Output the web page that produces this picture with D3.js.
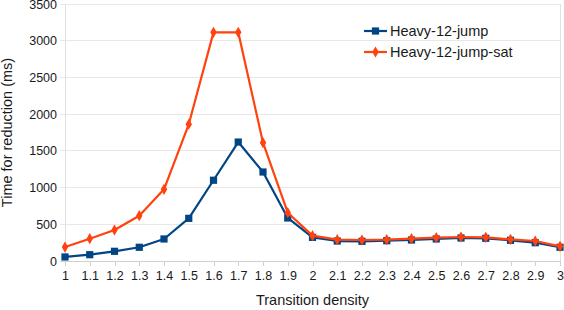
<!DOCTYPE html>
<html>
<head>
<meta charset="utf-8">
<script src="https://cdn.jsdelivr.net/npm/d3@7"></script>
<style>
  body { margin: 0; background: #fff; }
  svg { display: block; font-family: "Liberation Sans", Arial, sans-serif; }
</style>
</head>
<body>
<svg id="chart"></svg>
<script>
// densities on the x axis
const densities = [1, 1.1, 1.2, 1.3, 1.4, 1.5, 1.6, 1.7, 1.8, 1.9, 2, 2.1, 2.2, 2.3, 2.4, 2.5, 2.6, 2.7, 2.8, 2.9, 3];
const xTickLabels = ["1", "1.1", "1.2", "1.3", "1.4", "1.5", "1.6", "1.7", "1.8", "1.9", "2", "2.1", "2.2", "2.3", "2.4", "2.5", "2.6", "2.7", "2.8", "2.9", "3"];
const yTicks = [0, 500, 1000, 1500, 2000, 2500, 3000, 3500];

const seriesNames = ["Heavy-12-jump", "Heavy-12-jump-sat"];
const heavyJump = [55, 86, 132, 187, 300, 581, 1100, 1620, 1212, 586, 322, 272, 268, 276, 286, 300, 313, 309, 282, 249, 187];
const heavyJumpSat = [190, 304, 422, 617, 976, 1862, 3114, 3114, 1611, 658, 345, 290, 286, 290, 304, 318, 327, 322, 295, 272, 200];

const width = 564;
const height = 310;
const plotLeft = 65, plotRight = 560, plotTop = 4, plotBottom = 261;

const blue = "#004586";
const orange = "#ff420e";

let svg = d3.select("#chart").attr("width", width).attr("height", height);

let xScale = d3.scaleLinear().domain([1, 3]).range([plotLeft, plotRight]);
let yScale = d3.scaleLinear().domain([0, 3500]).range([plotBottom, plotTop]);

// grid lines
svg.append("g")
  .selectAll("line")
  .data(yTicks)
  .enter()
  .append("line")
  .attr("x1", plotLeft - 5)
  .attr("x2", plotRight)
  .attr("y1", (d) => yScale(d))
  .attr("y2", (d) => yScale(d))
  .attr("stroke", (d) => d == 0 ? "#d0d0d0" : "#e8e8e8")
  .attr("stroke-width", 1)
  .attr("shape-rendering", "crispEdges");

// side borders
svg.append("line")
  .attr("x1", plotLeft).attr("x2", plotLeft)
  .attr("y1", plotTop).attr("y2", plotBottom + 5)
  .attr("stroke", "#e0e0e0")
  .attr("shape-rendering", "crispEdges");
svg.append("line")
  .attr("x1", plotRight).attr("x2", plotRight)
  .attr("y1", plotTop).attr("y2", plotBottom + 5)
  .attr("stroke", "#e0e0e0")
  .attr("shape-rendering", "crispEdges");

// x axis
let xAxis = d3.axisBottom(xScale)
  .tickValues(densities)
  .tickSize(5)
  .tickPadding(5)
  .tickFormat((d, i) => xTickLabels[i]);
let gx = svg.append("g")
  .attr("transform", "translate(0," + plotBottom + ")")
  .call(xAxis);
gx.select(".domain").remove();
gx.selectAll("line").attr("stroke", "#d0d0d0").attr("shape-rendering", "crispEdges");
gx.selectAll("text")
  .attr("fill", "#1a1a1a")
  .style("font-size", "12.5px")
  .style("font-family", "'Liberation Sans', Arial, sans-serif");

// y axis
let yAxis = d3.axisLeft(yScale)
  .tickValues(yTicks)
  .tickSize(0)
  .tickPadding(8)
  .tickFormat(d3.format("d"));
let gy = svg.append("g")
  .attr("transform", "translate(" + plotLeft + ",0)")
  .call(yAxis);
gy.select(".domain").remove();
gy.selectAll("text")
  .attr("fill", "#1a1a1a")
  .style("font-size", "12.5px")
  .style("font-family", "'Liberation Sans', Arial, sans-serif");

// axis titles
svg.append("text")
  .text("Transition density")
  .attr("x", (plotLeft + plotRight) / 2)
  .attr("y", 305)
  .attr("text-anchor", "middle")
  .attr("fill", "#1a1a1a")
  .style("font-size", "14.5px");

svg.append("text")
  .text("Time for reduction (ms)")
  .attr("transform", "translate(12," + ((plotTop + plotBottom) / 2) + ") rotate(-90)")
  .attr("text-anchor", "middle")
  .attr("fill", "#1a1a1a")
  .style("font-size", "14.5px");

let line = d3.line()
  .x((d, i) => xScale(densities[i]))
  .y((d) => yScale(d));

let drawSeries = (values, color, shape, size) => {
  svg.append("path")
    .datum(values)
    .attr("d", line)
    .attr("fill", "none")
    .attr("stroke", color)
    .attr("stroke-width", 2.2)
    .attr("stroke-linejoin", "round");

  svg.append("g")
    .selectAll("path")
    .data(values)
    .enter()
    .append("path")
    .attr("d", d3.symbol().type(shape).size(size))
    .attr("transform", (d, i) => "translate(" + xScale(densities[i]) + "," + yScale(d) + ")")
    .attr("fill", color);
};

drawSeries(heavyJump, blue, d3.symbolSquare, 52);
drawSeries(heavyJumpSat, orange, d3.symbolDiamond, 36);

// legend
let legend = svg.append("g");
let legendItems = [
  { name: seriesNames[0], color: blue, shape: d3.symbolSquare, size: 52, y: 31 },
  { name: seriesNames[1], color: orange, shape: d3.symbolDiamond, size: 36, y: 52 }
];
legendItems.forEach((item) => {
  legend.append("line")
    .attr("x1", 364).attr("x2", 387)
    .attr("y1", item.y).attr("y2", item.y)
    .attr("stroke", item.color)
    .attr("stroke-width", 2.2);
  legend.append("path")
    .attr("d", d3.symbol().type(item.shape).size(item.size))
    .attr("transform", "translate(375.5," + item.y + ")")
    .attr("fill", item.color);
  legend.append("text")
    .text(item.name)
    .attr("x", 390)
    .attr("y", item.y + 5)
    .attr("fill", "#1a1a1a")
    .style("font-size", "14.5px");
});
</script>
</body>
</html>
